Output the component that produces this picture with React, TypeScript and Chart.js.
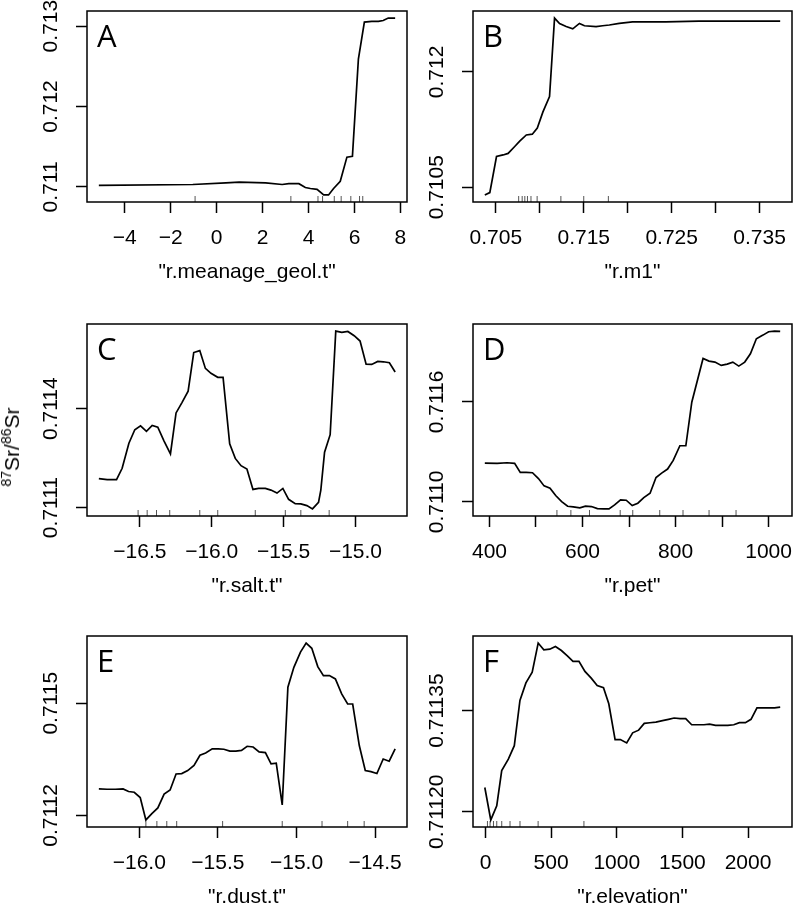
import React, { useEffect, useRef } from 'react';
import { Chart, registerables } from 'chart.js';

Chart.register(...registerables);

const FONT = '"Liberation Sans", Arial, Helvetica, sans-serif';
const LETTER_FONT = '"Open Sans", "Liberation Sans", sans-serif';

// ---------- Panel A : r.meanage_geol.t ----------
const aX = [-5.13, -1.04, 0.4, 0.98, 2.13, 2.85, 3.14, 3.58, 3.86, 4.08, 4.37, 4.66, 4.87, 5.09, 5.38, 5.67, 5.91, 6.17, 6.43, 6.75, 7.04, 7.25, 7.47, 7.77];
const aY = [0.71102, 0.71103, 0.71105, 0.71106, 0.71105, 0.71103, 0.71104, 0.71104, 0.710992, 0.71098, 0.71097, 0.7109, 0.7109, 0.71098, 0.71107, 0.71137, 0.71138, 0.71259, 0.71305, 0.71306, 0.71306, 0.71307, 0.7131, 0.7131];
const aRug = [-0.94, 3.23, 4.41, 4.61, 5.12, 5.42, 5.84, 6.22, 6.36];
const aXTicks = [-4, -2, 0, 2, 4, 6, 8];
const aXTickLabels = ['\u22124', '\u22122', '0', '2', '4', '6', '8'];
const aYTicks = [0.711, 0.712, 0.713];
const aYTickLabels = ['0.711', '0.712', '0.713'];

// ---------- Panel B : r.m1 ----------
const bX = [0.70375, 0.70432, 0.70508, 0.70583, 0.7064, 0.70715, 0.70772, 0.70847, 0.70915, 0.70972, 0.71036, 0.71111, 0.71168, 0.71225, 0.713, 0.71375, 0.71451, 0.71508, 0.7164, 0.71715, 0.71791, 0.71904, 0.72055, 0.72432, 0.72809, 0.73187, 0.73734];
const bY = [0.7104, 0.71043, 0.7109, 0.71092, 0.71094, 0.71103, 0.7111, 0.71118, 0.71119, 0.71127, 0.71148, 0.71168, 0.7127, 0.71263, 0.71259, 0.71256, 0.71263, 0.7126, 0.71259, 0.7126, 0.71261, 0.71263, 0.71265, 0.71265, 0.71266, 0.71266, 0.71266];
const bRug = [0.7076, 0.708, 0.7083, 0.7086, 0.709, 0.7097, 0.7124, 0.715, 0.7178];
const bXTicks = [0.705, 0.71, 0.715, 0.72, 0.725, 0.73, 0.735];
const bXTickLabels = ['0.705', '', '0.715', '', '0.725', '', '0.735'];
const bYTicks = [0.7105, 0.712];
const bYTickLabels = ['0.7105', '0.712'];

// ---------- Panel C : r.salt.t ----------
const cX = [-16.785, -16.727, -16.662, -16.623, -16.576, -16.535, -16.495, -16.454, -16.414, -16.375, -16.333, -16.287, -16.248, -16.206, -16.164, -16.125, -16.083, -16.044, -16.005, -15.958, -15.921, -15.875, -15.836, -15.796, -15.755, -15.713, -15.674, -15.627, -15.588, -15.546, -15.505, -15.465, -15.419, -15.38, -15.338, -15.299, -15.257, -15.241, -15.215, -15.176, -15.137, -15.095, -15.053, -15.009, -14.968, -14.926, -14.887, -14.845, -14.806, -14.764, -14.724];
const cY = [0.711188, 0.711185, 0.711185, 0.711219, 0.711295, 0.711336, 0.711348, 0.711331, 0.711349, 0.711344, 0.711303, 0.711263, 0.711387, 0.711419, 0.711453, 0.71157, 0.711576, 0.711522, 0.711507, 0.711495, 0.711495, 0.711293, 0.711249, 0.711227, 0.711217, 0.711155, 0.711158, 0.711158, 0.711153, 0.711144, 0.711158, 0.711125, 0.711112, 0.711111, 0.711106, 0.711096, 0.711116, 0.711153, 0.711268, 0.711321, 0.711635, 0.711631, 0.711634, 0.711621, 0.711605, 0.711535, 0.711534, 0.711543, 0.711542, 0.711539, 0.711511];
const cRug = [-16.512, -16.449, -16.384, -16.292, -16.083, -15.958, -15.697, -15.488, -15.38, -15.183];
const cXTicks = [-16.5, -16.0, -15.5, -15.0];
const cXTickLabels = ['\u221216.5', '\u221216.0', '\u221215.5', '\u221215.0'];
const cYTicks = [0.7111, 0.7114];
const cYTickLabels = ['0.7111', '0.7114'];

// ---------- Panel D : r.pet ----------
const dX = [390, 416.4, 437.7, 454.1, 466.2, 479, 492.5, 505.3, 517.4, 530.2, 542.3, 555.2, 568, 580.1, 594.3, 606.4, 619.2, 632, 645.5, 656.9, 669, 681.8, 694, 706.8, 718.9, 731.7, 745.2, 758, 770.1, 782.9, 795, 809.3, 822.1, 834.9, 859.1, 871.9, 884.7, 898.2, 911, 923.1, 935.9, 948.7, 960.9, 973.7, 987.9, 1000, 1012.8, 1024.9];
const dY = [0.711233, 0.711231, 0.711235, 0.711231, 0.711177, 0.711177, 0.711175, 0.71114, 0.711096, 0.711082, 0.711038, 0.711002, 0.710974, 0.71097, 0.710964, 0.710974, 0.710972, 0.71096, 0.710958, 0.710958, 0.710982, 0.711012, 0.71101, 0.710978, 0.710992, 0.711026, 0.711052, 0.711146, 0.711173, 0.711197, 0.711249, 0.711337, 0.711337, 0.711598, 0.711861, 0.711845, 0.711839, 0.711819, 0.711827, 0.711839, 0.711815, 0.711839, 0.711889, 0.711979, 0.712001, 0.712021, 0.712025, 0.712023];
const dRug = [545, 575, 615, 681, 708, 766, 816, 872, 930];
const dXTicks = [400, 500, 600, 700, 800, 900, 1000];
const dXTickLabels = ['400', '', '600', '', '800', '', '1000'];
const dYTicks = [0.711, 0.7116];
const dYTickLabels = ['0.7110', '0.7116'];

// ---------- Panel E : r.dust.t ----------
const eX = [-16.257, -16.205, -16.152, -16.103, -16.068, -16.032, -15.994, -15.958, -15.92, -15.882, -15.842, -15.804, -15.766, -15.73, -15.692, -15.652, -15.614, -15.578, -15.536, -15.498, -15.462, -15.424, -15.386, -15.35, -15.314, -15.276, -15.238, -15.198, -15.162, -15.129, -15.091, -15.055, -15.017, -14.975, -14.939, -14.903, -14.865, -14.829, -14.791, -14.753, -14.713, -14.675, -14.643, -14.601, -14.563, -14.527, -14.489, -14.449, -14.411, -14.373];
const eY = [0.711271, 0.71127, 0.71127, 0.711271, 0.711264, 0.711262, 0.711248, 0.711188, 0.711205, 0.71122, 0.711257, 0.711268, 0.711311, 0.711312, 0.71132, 0.711334, 0.711361, 0.711367, 0.711378, 0.711378, 0.711377, 0.711372, 0.711372, 0.711374, 0.711385, 0.711383, 0.71137, 0.711368, 0.711338, 0.71134, 0.711228, 0.711543, 0.711596, 0.711637, 0.711661, 0.711647, 0.711598, 0.711574, 0.711574, 0.711565, 0.711525, 0.711498, 0.711498, 0.711387, 0.71132, 0.711317, 0.711312, 0.711351, 0.711345, 0.711378];
const eRug = [-15.958, -15.888, -15.825, -15.762, -15.47, -15.091, -14.838, -14.675, -14.57];
const eXTicks = [-16.0, -15.5, -15.0, -14.5];
const eXTickLabels = ['\u221216.0', '\u221215.5', '\u221215.0', '\u221214.5'];
const eYTicks = [0.7112, 0.7115];
const eYTickLabels = ['0.7112', '0.7115'];

// ---------- Panel F : r.elevation ----------
const fX = [-5, 40.4, 85.9, 123.7, 174.2, 219.7, 262.6, 308.1, 356.1, 401.5, 444.5, 489.9, 532.8, 578.3, 623.8, 666.7, 712.1, 757.6, 805.6, 851, 899, 939.4, 987.4, 1027.8, 1075.8, 1121.2, 1166.7, 1209.6, 1252.5, 1298, 1348.5, 1394, 1436.9, 1482.3, 1525.3, 1570.7, 1618.7, 1664.2, 1707.1, 1752.6, 1798, 1846, 1891.5, 1934.4, 1979.8, 2022.8, 2068.2, 2113.7, 2156.6, 2202.1, 2245];
const fY = [0.711236, 0.711188, 0.711209, 0.711261, 0.711278, 0.711298, 0.711365, 0.711391, 0.711407, 0.71145, 0.71144, 0.711441, 0.711445, 0.711439, 0.711431, 0.711423, 0.711423, 0.711408, 0.711398, 0.711387, 0.711384, 0.71136, 0.711307, 0.711307, 0.711302, 0.711317, 0.711321, 0.711331, 0.711332, 0.711333, 0.711335, 0.711337, 0.711339, 0.711338, 0.711338, 0.711329, 0.711329, 0.711329, 0.71133, 0.711328, 0.711328, 0.711328, 0.711329, 0.711332, 0.711332, 0.711337, 0.711354, 0.711354, 0.711354, 0.711354, 0.711355];
const fRug = [15, 35, 61, 86, 124, 187, 263, 401, 750];
const fXTicks = [0, 500, 1000, 1500, 2000];
const fXTickLabels = ['0', '500', '1000', '1500', '2000'];
const fYTicks = [0.7112, 0.71135];
const fYTickLabels = ['0.71120', '0.71135'];

const panelLetters = ['A', 'B', 'C', 'D', 'E', 'F'];
const xTitles = ['"r.meanage_geol.t"', '"r.m1"', '"r.salt.t"', '"r.pet"', '"r.dust.t"', '"r.elevation"'];

type Spec = {
  letter: string; title: string; xs: number[]; ys: number[]; rug: number[];
  xTicks: number[]; xTickLabels: string[]; yTicks: number[]; yTickLabels: string[];
  col: number; row: number;
};

const specs: Spec[] = [
  { letter: panelLetters[0], title: xTitles[0], xs: aX, ys: aY, rug: aRug, xTicks: aXTicks, xTickLabels: aXTickLabels, yTicks: aYTicks, yTickLabels: aYTickLabels, col: 0, row: 0 },
  { letter: panelLetters[1], title: xTitles[1], xs: bX, ys: bY, rug: bRug, xTicks: bXTicks, xTickLabels: bXTickLabels, yTicks: bYTicks, yTickLabels: bYTickLabels, col: 1, row: 0 },
  { letter: panelLetters[2], title: xTitles[2], xs: cX, ys: cY, rug: cRug, xTicks: cXTicks, xTickLabels: cXTickLabels, yTicks: cYTicks, yTickLabels: cYTickLabels, col: 0, row: 1 },
  { letter: panelLetters[3], title: xTitles[3], xs: dX, ys: dY, rug: dRug, xTicks: dXTicks, xTickLabels: dXTickLabels, yTicks: dYTicks, yTickLabels: dYTickLabels, col: 1, row: 1 },
  { letter: panelLetters[4], title: xTitles[4], xs: eX, ys: eY, rug: eRug, xTicks: eXTicks, xTickLabels: eXTickLabels, yTicks: eYTicks, yTickLabels: eYTickLabels, col: 0, row: 2 },
  { letter: panelLetters[5], title: xTitles[5], xs: fX, ys: fY, rug: fRug, xTicks: fXTicks, xTickLabels: fXTickLabels, yTicks: fYTicks, yTickLabels: fYTickLabels, col: 1, row: 2 },
];

// layout (page pixels)
const COLS = [
  { canvasLeft: 0, width: 415, plotLeft: 87, plotRight: 407 },
  { canvasLeft: 415, width: 384, plotLeft: 473, plotRight: 793 },
];
const ROWS = [
  { canvasTop: 0, height: 300, plotTop: 11, plotBottom: 202 },
  { canvasTop: 300, height: 312, plotTop: 324, plotBottom: 516 },
  { canvasTop: 612, height: 292, plotTop: 636, plotBottom: 827 },
];

const LABEL_DIST = 36; // centre of tick labels from plot edge
const TITLE_DIST = 70; // centre of axis title from plot edge
const TICK_LEN = 11;
const FONT_SIZE = 21;

function Panel({ spec }: { spec: Spec }) {
  const ref = useRef<HTMLCanvasElement | null>(null);
  const col = COLS[spec.col];
  const row = ROWS[spec.row];

  useEffect(() => {
    const canvas = ref.current;
    if (!canvas) return;
    const xmin = Math.min(...spec.xs), xmax = Math.max(...spec.xs);
    const ymin = Math.min(...spec.ys), ymax = Math.max(...spec.ys);
    const xr = xmax - xmin, yr = ymax - ymin;
    const xlo = xmin - 0.04 * xr, xhi = xmax + 0.04 * xr;
    const ylo = ymin - 0.04 * yr, yhi = ymax + 0.04 * yr;

    const yAxisW = col.plotLeft - col.canvasLeft;
    const plotBottomC = row.plotBottom - row.canvasTop;
    const xAxisH = row.height - plotBottomC;
    const rightPad = col.width - (col.plotRight - col.canvasLeft);
    const topPad = row.plotTop - row.canvasTop;
    const lh = FONT_SIZE * 1.2;

    const frame = {
      id: 'rFrame' + spec.letter,
      afterDraw(chart: any) {
        const { ctx, chartArea: a } = chart;
        ctx.save();
        ctx.strokeStyle = '#000';
        ctx.lineWidth = 1.5;
        ctx.strokeRect(a.left, a.top, a.right - a.left, a.bottom - a.top);
        const ys = chart.scales.y;
        ctx.fillStyle = '#000';
        ctx.font = `${FONT_SIZE}px ${FONT}`;
        ctx.textAlign = 'center';
        ctx.textBaseline = 'middle';
        spec.yTicks.forEach((v, i) => {
          const py = ys.getPixelForValue(v);
          ctx.save();
          ctx.translate(a.left - LABEL_DIST, py);
          ctx.rotate(-Math.PI / 2);
          ctx.fillText(spec.yTickLabels[i], 0, 0);
          ctx.restore();
        });
        ctx.font = `31px ${LETTER_FONT}`;
        ctx.textAlign = 'left';
        ctx.textBaseline = 'alphabetic';
        ctx.fillText(spec.letter, a.left + 10, a.top + 36);
        ctx.restore();
      },
    };

    const chart = new Chart(canvas, {
      type: 'scatter',
      data: {
        datasets: [
          {
            data: spec.xs.map((x, i) => ({ x, y: spec.ys[i] })),
            showLine: true,
            borderColor: '#000',
            borderWidth: 1.7,
            pointRadius: 0,
            pointHoverRadius: 0,
            tension: 0,
            fill: false,
          } as any,
          {
            data: spec.rug.map((x) => ({ x, y: ylo })),
            showLine: false,
            pointStyle: 'line',
            rotation: 90,
            pointRadius: 6,
            pointHoverRadius: 6,
            borderColor: '#555',
            pointBorderColor: '#555',
            pointBorderWidth: 1,
            clip: 0,
          } as any,
        ],
      },
      options: {
        responsive: false,
        animation: false,
        devicePixelRatio: 1,
        events: [],
        layout: { padding: { left: 0, top: topPad, right: rightPad, bottom: 0 } },
        plugins: { legend: { display: false }, tooltip: { enabled: false } },
        scales: {
          x: {
            type: 'linear',
            position: 'bottom',
            min: xlo,
            max: xhi,
            afterBuildTicks: (s: any) => {
              s.ticks = spec.xTicks.map((v) => ({ value: v }));
            },
            afterFit: (s: any) => {
              s.height = xAxisH;
              s.paddingLeft = 0;
              s.paddingRight = 0;
            },
            ticks: {
              autoSkip: false,
              maxRotation: 0,
              minRotation: 0,
              padding: LABEL_DIST - TICK_LEN - lh / 2,
              color: '#000',
              font: { family: FONT, size: FONT_SIZE },
              callback: (value: any) => {
                const i = spec.xTicks.findIndex((t) => Math.abs(t - Number(value)) < 1e-9);
                return i >= 0 ? spec.xTickLabels[i] : '';
              },
            },
            grid: {
              display: true,
              drawOnChartArea: false,
              drawTicks: true,
              tickLength: TICK_LEN,
              tickWidth: 1.5,
              tickColor: '#000',
            },
            border: { display: false },
            title: {
              display: true,
              text: spec.title,
              color: '#000',
              font: { family: FONT, size: FONT_SIZE },
              padding: { top: 0, bottom: xAxisH - TITLE_DIST - lh / 2 },
            },
          },
          y: {
            type: 'linear',
            position: 'left',
            min: ylo,
            max: yhi,
            afterBuildTicks: (s: any) => {
              s.ticks = spec.yTicks.map((v) => ({ value: v }));
            },
            afterFit: (s: any) => {
              s.width = yAxisW;
              s.paddingTop = 0;
              s.paddingBottom = 0;
            },
            ticks: { display: false },
            grid: {
              display: true,
              drawOnChartArea: false,
              drawTicks: true,
              tickLength: TICK_LEN,
              tickWidth: 1.5,
              tickColor: '#000',
            },
            border: { display: false },
          },
        },
      } as any,
      plugins: [frame],
    });
    return () => chart.destroy();
  }, [spec]);

  return (
    <canvas
      ref={ref}
      width={col.width}
      height={row.height}
      style={{
        position: 'absolute',
        left: col.canvasLeft,
        top: row.canvasTop,
        width: col.width,
        height: row.height,
      }}
    />
  );
}

export default function App() {
  return (
    <div
      style={{
        position: 'absolute',
        left: 0,
        top: 0,
        width: 799,
        height: 904,
        overflow: 'hidden',
        background: '#fff',
      }}
    >
      {specs.map((s) => (
        <Panel key={s.letter} spec={s} />
      ))}
      <div
        style={{
          position: 'absolute',
          left: 12,
          top: 447,
          transform: 'translate(-50%, -50%) rotate(-90deg)',
          fontFamily: FONT,
          fontSize: 21,
          lineHeight: '24px',
          whiteSpace: 'nowrap',
          color: '#000',
        }}
      >
        <span style={{ fontSize: 14, verticalAlign: '8px', lineHeight: 0 }}>87</span>Sr/
        <span style={{ fontSize: 14, verticalAlign: '8px', lineHeight: 0 }}>86</span>Sr
      </div>
    </div>
  );
}
